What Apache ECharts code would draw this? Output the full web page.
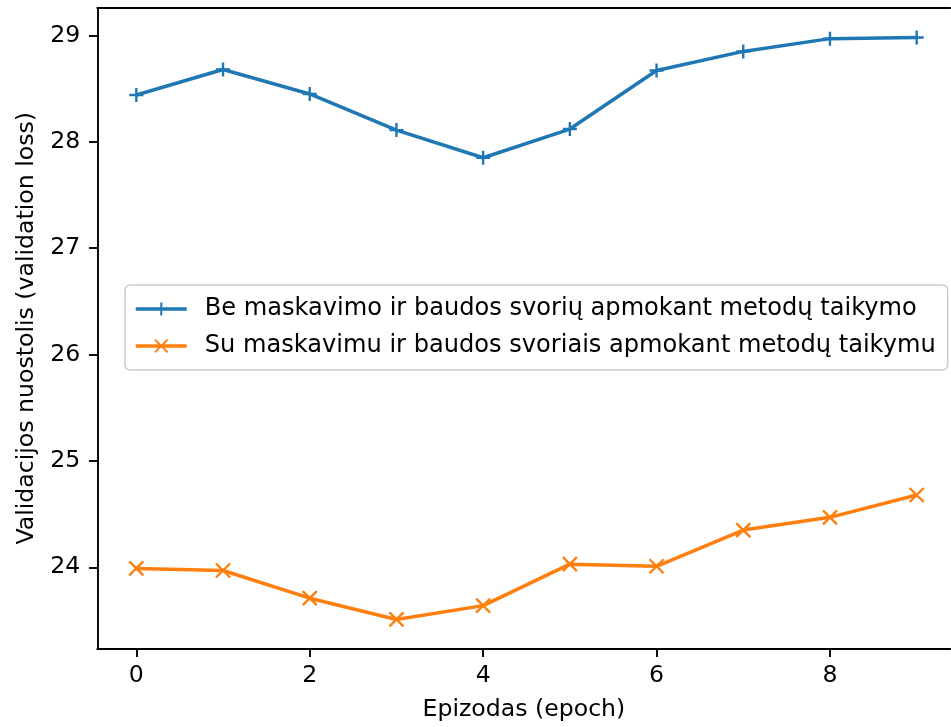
<!DOCTYPE html>
<html>
<head>
<meta charset="utf-8">
<script src="https://cdn.jsdelivr.net/npm/echarts@6/dist/echarts.min.js"></script>
<style>
html,body{margin:0;padding:0;background:#fff;}
#chart{width:951px;height:727px;}
</style>
</head>
<body>
<div id="chart"></div>
<script>
const epochs = [0, 1, 2, 3, 4, 5, 6, 7, 8, 9];
const lossNoMask = [28.44, 28.68, 28.45, 28.11, 27.85, 28.12, 28.67, 28.85, 28.97, 28.98];
const lossMask = [23.99, 23.97, 23.71, 23.51, 23.64, 24.03, 24.01, 24.35, 24.47, 24.68];
const xTicks = [0, 2, 4, 6, 8];
const yTicks = [24, 25, 26, 27, 28, 29];
const seriesNames = [
  'Be maskavimo ir baudos svorių apmokant metodų taikymo',
  'Su maskavimu ir baudos svoriais apmokant metodų taikymu'
];
const xName = 'Epizodas (epoch)';
const yName = 'Validacijos nuostolis (validation loss)';

const FS = 23.6;
const LFS = 24.1;
const FONT = 'DejaVu Sans';
const xMin = -0.45, xMax = 9.39;
const yMin = 23.236, yMax = 29.258;

const chart = echarts.init(document.getElementById('chart'), null, {renderer: 'canvas'});
const axisLine = {show: true, onZero: false, lineStyle: {color: '#000', width: 1.9}};
const option = {
  animation: false,
  backgroundColor: '#fff',
  textStyle: {fontFamily: FONT},
  grid: {left: 97.3, top: 8, right: 0.5, height: 640.6, containLabel: false},
  legend: {
    orient: 'vertical',
    left: 125, top: 285,
    padding: [10, 12, 10, 9],
    itemGap: 9,
    itemWidth: 51, itemHeight: 16,
    backgroundColor: 'rgba(255,255,255,0.8)',
    borderColor: '#cccccc', borderWidth: 1.5, borderRadius: 5,
    lineStyle: {width: 3.5},
    textStyle: {fontFamily: FONT, fontSize: LFS, color: '#000', lineHeight: 28, padding: [0, 0, 0, 13]},
    data: seriesNames
  },
  xAxis: [{
    type: 'value', min: xMin, max: xMax, position: 'bottom',
    name: xName, nameLocation: 'middle', nameGap: 49,
    nameTextStyle: {fontFamily: FONT, fontSize: FS, color: '#000'},
    axisLine: axisLine,
    axisTick: {show: true, length: 8.3, lineStyle: {color: '#000', width: 1.9}, customValues: xTicks},
    axisLabel: {show: true, margin: 15, fontFamily: FONT, fontSize: FS, color: '#000', customValues: xTicks},
    splitLine: {show: false}
  }, {
    type: 'value', min: xMin, max: xMax, position: 'top',
    axisLine: axisLine, axisTick: {show: false}, axisLabel: {show: false}, splitLine: {show: false}
  }],
  yAxis: [{
    type: 'value', min: yMin, max: yMax, position: 'left',
    name: yName, nameLocation: 'middle', nameGap: 58,
    nameTextStyle: {fontFamily: FONT, fontSize: FS, color: '#000'},
    axisLine: axisLine,
    axisTick: {show: true, length: 8.3, lineStyle: {color: '#000', width: 1.9}, customValues: yTicks},
    axisLabel: {show: true, margin: 17, fontFamily: FONT, fontSize: FS, color: '#000', customValues: yTicks},
    splitLine: {show: false}
  }],
  series: [{
    name: seriesNames[0], type: 'line',
    data: epochs.map((e, i) => [e, lossNoMask[i]]),
    symbol: 'path://M0,5L10,5M5,0L5,10', symbolSize: 14,
    lineStyle: {color: '#1f77b4', width: 3.5},
    itemStyle: {color: '#1f77b4', borderColor: '#1f77b4', borderWidth: 2.4},
    emphasis: {disabled: true}
  }, {
    name: seriesNames[1], type: 'line',
    data: epochs.map((e, i) => [e, lossMask[i]]),
    symbol: 'path://M0,0L10,10M0,10L10,0', symbolSize: 14,
    lineStyle: {color: '#ff7f0e', width: 3.5},
    itemStyle: {color: '#ff7f0e', borderColor: '#ff7f0e', borderWidth: 2.4},
    emphasis: {disabled: true}
  }]
};
chart.setOption(option);
</script>
</body>
</html>
